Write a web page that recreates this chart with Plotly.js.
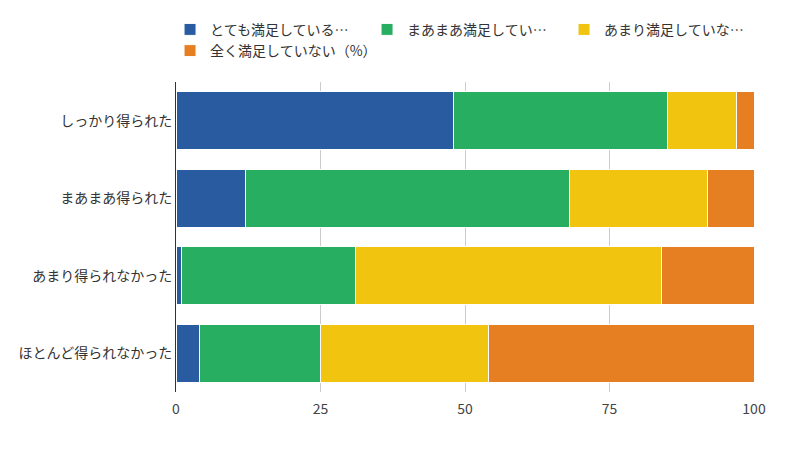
<!DOCTYPE html>
<html>
<head>
<meta charset="utf-8">
<script src="https://cdn.plot.ly/plotly-3.0.1.min.js"></script>
<style>html,body{margin:0;padding:0;background:#fff;}#chart{width:810px;height:465px;}</style>
</head>
<body>
<div id="chart"></div>
<script>
const categories = ["しっかり得られた", "まあまあ得られた", "あまり得られなかった", "ほとんど得られなかった"];
const seriesNames = ["とても満足している…", "まあまあ満足してい…", "あまり満足していな…", "全く満足していない（%）"];
const verySatisfied = [48, 12, 1, 4];
const fairlySatisfied = [37, 56, 30, 21];
const notVerySatisfied = [12, 24, 53, 29];
const notAtAllSatisfied = [3, 8, 16, 46];
const colors = ["#285BA0", "#27AE60", "#F1C40F", "#E67E22"];
const xTicks = [0, 25, 50, 75, 100];

const seriesValues = [verySatisfied, fairlySatisfied, notVerySatisfied, notAtAllSatisfied];
const traces = seriesValues.map((vals, i) => ({
  type: "bar",
  orientation: "h",
  name: seriesNames[i],
  x: vals,
  y: categories,
  marker: {color: colors[i], line: {color: "#ffffff", width: 1}},
  hoverinfo: "none"
}));

const layout = {
  width: 810, height: 465,
  margin: {l: 176, r: 56, t: 82, b: 73, autoexpand: false},
  barmode: "stack",
  bargap: 0.25,
  paper_bgcolor: "#ffffff",
  plot_bgcolor: "#ffffff",
  font: {family: "'Noto Sans CJK JP', 'Noto Sans', sans-serif", size: 14, color: "#333333"},
  showlegend: true,
  legend: {
    orientation: "h",
    xref: "paper", yref: "paper",
    x: -0.0103, xanchor: "left",
    y: 1.22, yanchor: "top",
    entrywidth: 152, entrywidthmode: "pixels",
    traceorder: "normal",
    font: {size: 14, color: "#333333"},
    itemwidth: 30,
    tracegroupgap: 0
  },
  xaxis: {
    range: [0, 100],
    tickvals: xTicks,
    ticktext: xTicks.map(String),
    showgrid: true,
    gridcolor: "#cccccc",
    zeroline: false,
    showline: false,
    ticks: "outside",
    ticklen: 4,
    tickcolor: "rgba(0,0,0,0)",
    tickfont: {size: 14, color: "#444444"},
    fixedrange: true
  },
  yaxis: {
    autorange: "reversed",
    showline: true,
    linecolor: "#333333",
    linewidth: 1,
    showgrid: false,
    ticks: "",
    tickfont: {size: 14, color: "#333333"},
    fixedrange: true
  }
};

Plotly.newPlot("chart", traces, layout, {displayModeBar: false, staticPlot: true});
</script>
</body>
</html>
